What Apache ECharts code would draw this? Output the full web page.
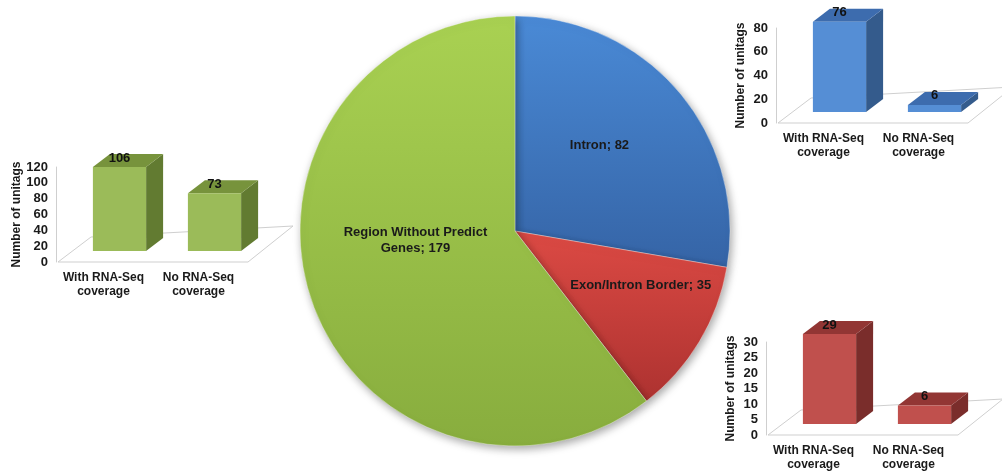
<!DOCTYPE html>
<html>
<head>
<meta charset="utf-8">
<script src="https://cdn.jsdelivr.net/npm/echarts@6/dist/echarts.min.js"></script>
<style>html,body{margin:0;padding:0;background:#fff;}#c{width:1002px;height:472px;}</style>
</head>
<body>
<div id="c"></div>
<script>
// ---- data ----
const pieNames = ['Intron', 'Exon/Intron Border', 'Region Without Predict Genes'];
const pieValues = [82, 35, 179];
const barCategories = ['With RNA-Seq\ncoverage', 'No RNA-Seq\ncoverage'];
const intronBars = [76, 6];
const exonBars = [29, 6];
const regionBars = [106, 73];
const intronAxisMax = 80, intronAxisStep = 20;
const exonAxisMax = 30, exonAxisStep = 5;
const regionAxisMax = 120, regionAxisStep = 20;
const yName = 'Number of unitags';

const FONT = 'Liberation Sans, Arial, sans-serif';
const chart = echarts.init(document.getElementById('c'));

const palette = {
  green: {front: '#9bbb59', top: '#77933c', side: '#627b31'},
  blue:  {front: '#558ed5', top: '#3d6cae', side: '#345b8c'},
  red:   {front: '#c0504d', top: '#923634', side: '#7a2d2b'}
};

function barRender(col) {
  return function (params, api) {
    const cat = api.value(0), v = api.value(1);
    const base = api.coord([cat, 0]);
    const top = api.coord([cat, v]);
    const band = api.size([1, 0])[0];
    const w = band * 0.56;
    const cx = base[0] + 16;
    const x1 = cx - w / 2, x2 = cx + w / 2;
    const yb = base[1] - 11, yt = top[1] - 11;
    const dx = 17, dy = -13;
    return {
      type: 'group',
      children: [
        {type: 'polygon', shape: {points: [[x2, yt], [x2 + dx, yt + dy], [x2 + dx, yb + dy], [x2, yb]]}, style: {fill: col.side}},
        {type: 'polygon', shape: {points: [[x1, yt], [x2, yt], [x2 + dx, yt + dy], [x1 + dx, yt + dy]]}, style: {fill: col.top}},
        {type: 'rect', shape: {x: x1, y: yt, width: w, height: yb - yt}, style: {fill: col.front}},
        {type: 'text', style: {text: String(v), x: cx, y: yt - 9, align: 'center', verticalAlign: 'middle', font: 'bold 13px ' + FONT, fill: '#111'}}
      ]
    };
  };
}

function floorRender(params, api) {
  const c = params.coordSys;
  const fl = [c.x + 2, c.y + c.height], fr = [c.x + c.width + 2, c.y + c.height];
  return {
    type: 'polygon',
    shape: {points: [fl, fr, [fr[0] + 45, fr[1] - 36], [fl[0] + 33, fl[1] - 25]]},
    style: {fill: 'none', stroke: '#cfcfcf', lineWidth: 1}
  };
}

const grids = [
  {left: 56, top: 167, width: 190, height: 95},     // green (left)
  {left: 776, top: 28, width: 190, height: 95},     // blue (top right)
  {left: 766, top: 342, width: 190, height: 94}     // red (bottom right)
];

const axisSpecs = [
  {max: regionAxisMax, step: regionAxisStep, data: regionBars, col: palette.green, gap: 31},
  {max: intronAxisMax, step: intronAxisStep, data: intronBars, col: palette.blue, gap: 29},
  {max: exonAxisMax, step: exonAxisStep, data: exonBars, col: palette.red, gap: 29}
];

const xAxes = [], yAxes = [], series = [];
axisSpecs.forEach((s, i) => {
  xAxes.push({
    type: 'category', gridIndex: i, data: barCategories,
    axisLine: {show: false}, axisTick: {show: false}, splitLine: {show: false},
    axisLabel: {interval: 0, color: '#1a1a1a', fontWeight: 'bold', fontSize: 12, fontFamily: FONT, lineHeight: 14, margin: 9}
  });
  yAxes.push({
    type: 'value', gridIndex: i, min: 0, max: s.max, interval: s.step,
    name: yName, nameLocation: 'middle', nameGap: s.gap, nameRotate: 90,
    nameTextStyle: {color: '#1a1a1a', fontWeight: 'bold', fontSize: 12, fontFamily: FONT},
    axisLine: {show: true, lineStyle: {color: '#cfcfcf'}}, axisTick: {show: false}, splitLine: {show: false},
    axisLabel: {color: '#1a1a1a', fontWeight: 'bold', fontSize: 13, fontFamily: FONT, margin: 8}
  });
  series.push({
    type: 'custom', xAxisIndex: i, yAxisIndex: i, data: [[0, 0]], renderItem: floorRender, clip: false, z: 1, silent: true
  });
  series.push({
    type: 'custom', xAxisIndex: i, yAxisIndex: i,
    data: s.data.map((v, k) => [k, v]), renderItem: barRender(s.col), clip: false, z: 3
  });
});

const pieColors = [
  ['#4a8ad6', '#3564a6'],
  ['#dc4a44', '#ad3230'],
  ['#a9d152', '#88ad3e']
];
const labelOffsets = [[0, -14], [31, -3], [5, -26]];

series.push({
  type: 'pie', center: [515, 231], radius: 215, startAngle: 90, clockwise: true,
  z: 2,
  label: {position: 'inside', color: '#1a1a1a', fontWeight: 'bold', fontSize: 13, fontFamily: FONT, lineHeight: 16, formatter: '{b}; {c}'},
  labelLine: {show: false},
  emphasis: {disabled: true},
  itemStyle: {borderColor: 'rgba(255,255,255,0.35)', borderWidth: 1, shadowBlur: 8, shadowColor: 'rgba(0,0,0,0.35)', shadowOffsetX: 2, shadowOffsetY: 3},
  data: pieNames.map((n, k) => ({
    name: n, value: pieValues[k],
    itemStyle: {color: new echarts.graphic.LinearGradient(0, 0, 0, 1, [{offset: 0, color: pieColors[k][0]}, {offset: 1, color: pieColors[k][1]}])},
    label: Object.assign({offset: labelOffsets[k]}, k === 2 ? {formatter: 'Region Without Predict\nGenes; {c}'} : {})
  }))
});

chart.setOption({
  backgroundColor: '#fff',
  animation: false,
  grid: grids,
  xAxis: xAxes,
  yAxis: yAxes,
  series: series
});
</script>
</body>
</html>
